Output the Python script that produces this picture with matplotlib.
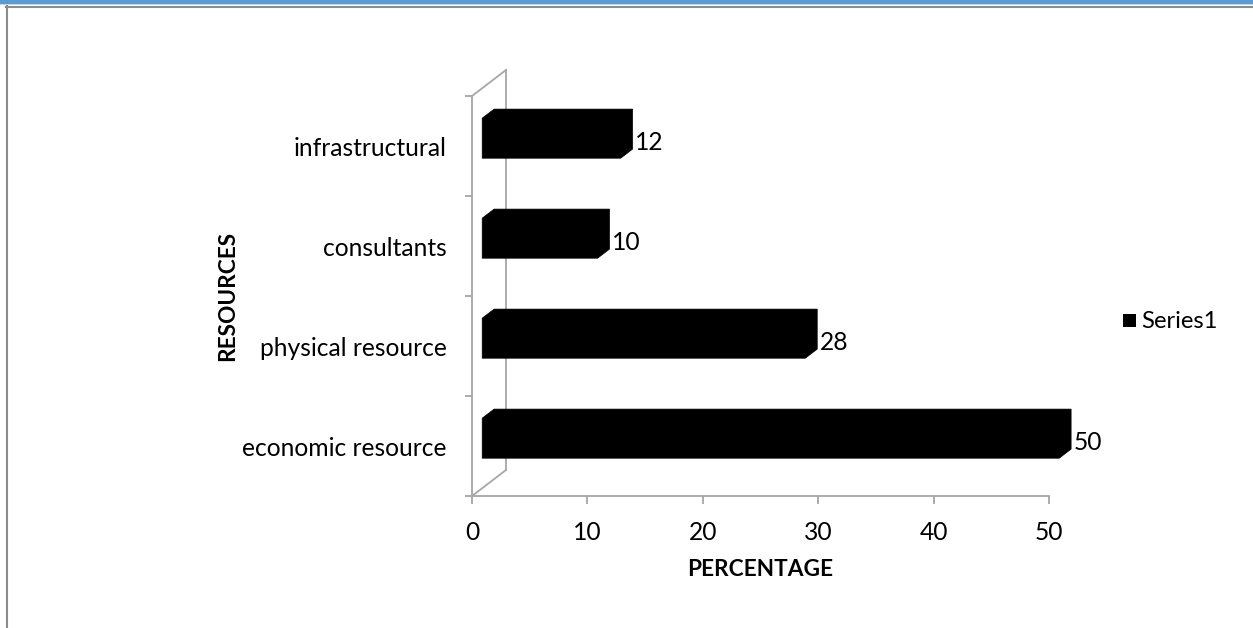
import matplotlib
matplotlib.use("Agg")
import matplotlib.pyplot as plt
from matplotlib.patches import Polygon, Rectangle
from matplotlib.lines import Line2D

categories = ["economic resource", "physical resource", "consultants", "infrastructural"]
values = [50, 28, 10, 12]
series_name = "Series1"
x_ticks = [0, 10, 20, 30, 40, 50]
x_title = "PERCENTAGE"
y_title = "RESOURCES"

W, H, DPI = 1253, 628, 100
fig = plt.figure(figsize=(W / DPI, H / DPI), dpi=DPI)
FONT = "Lato"
FS = 17.7
TFS = 16.3
GRAY = "#a6a6a6"

# axes position in pixels
x0p, x1p = 472, 1049
ytop, ybot = 96, 496
ax = fig.add_axes([x0p / W, (H - ybot) / H, (x1p - x0p) / W, (ybot - ytop) / H])
ax.set_xlim(0, 50)
ax.set_ylim(-0.5, len(categories) - 0.5)
ax.patch.set_alpha(0)

# depth of the 3D box in data units
px_per_x = (x1p - x0p) / 50.0
px_per_y = (ybot - ytop) / len(categories)
DX = 34 / px_per_x
DY = 26 / px_per_y

for s in ["top", "right"]:
    ax.spines[s].set_visible(False)
for s in ["left", "bottom"]:
    ax.spines[s].set_color(GRAY)
    ax.spines[s].set_linewidth(1.3)

ax.set_xticks(x_ticks)
ax.set_xticklabels([str(t) for t in x_ticks], fontsize=FS, fontfamily=FONT)
ax.tick_params(axis="x", direction="out", length=6, width=1.3, color=GRAY, pad=12)
ax.set_yticks([i - 0.5 for i in range(len(categories) + 1)])
ax.set_yticklabels([])
ax.set_yticks(range(len(categories)), minor=True)
ax.set_yticklabels(categories, minor=True, fontsize=FS, fontfamily=FONT)
ax.tick_params(axis="y", which="major", direction="out", length=5, width=1.3, color=GRAY)
ax.tick_params(axis="y", which="minor", length=0, pad=18)

# back wall lines
ylo, yhi = -0.5, len(categories) - 0.5
kw = dict(color=GRAY, lw=1.3, clip_on=False, zorder=1)
ax.add_line(Line2D([DX, DX], [ylo + DY, yhi + DY], **kw))
ax.add_line(Line2D([0, DX], [ylo, ylo + DY], **kw))
ax.add_line(Line2D([0, DX], [yhi, yhi + DY], **kw))

# bars
t0, t1 = 0.3, 0.65
hh = 0.2
for i, v in enumerate(values):
    ox0, oy0 = t0 * DX, t0 * DY
    ox1, oy1 = t1 * DX, t1 * DY
    pts = [
        (ox0, i - hh + oy0),
        (ox0, i + hh + oy0),
        (ox1, i + hh + oy1),
        (v + ox1, i + hh + oy1),
        (v + ox1, i - hh + oy1),
        (v + ox0, i - hh + oy0),
    ]
    ax.add_patch(Polygon(pts, closed=True, facecolor="black", edgecolor="black",
                         lw=0.5, clip_on=False, zorder=3))
    ax.text(v + ox1 + 0.2, i + oy0 - 0.04, str(v), fontsize=FS, fontfamily=FONT,
            ha="left", va="center", zorder=4)

ax.set_xlabel(x_title, fontsize=TFS, fontfamily=FONT, fontweight="bold", va="center")
ax.xaxis.set_label_coords((760 - x0p) / (x1p - x0p), -(570 - ybot) / (ybot - ytop))
fig.text(228 / W, 1 - 296 / H, y_title, rotation=90, fontsize=TFS, fontfamily=FONT,
         fontweight="bold", ha="center", va="center")

# legend
fig.patches.append(Rectangle((1123 / W, 1 - 327 / H), 13 / W, 13 / H, transform=fig.transFigure,
                             facecolor="black", edgecolor="none"))
fig.text(1141 / W, 1 - 321 / H, series_name, fontsize=FS - 0.5, fontfamily=FONT, ha="left", va="center")

# page borders
fig.patches.append(Rectangle((0, 1 - 4 / H), 1, 4 / H, transform=fig.transFigure,
                             facecolor="#5b9bd5", edgecolor="none"))
fig.patches.append(Rectangle((0, 1 - 5 / H), 1, 1 / H, transform=fig.transFigure,
                             facecolor="#bdd7ee", edgecolor="none"))
fig.lines.append(Line2D([6 / W, 1], [1 - 7 / H, 1 - 7 / H], transform=fig.transFigure,
                        color="#8c8c8c", lw=1.5))
fig.lines.append(Line2D([7 / W, 7 / W], [0, 1 - 6 / H], transform=fig.transFigure,
                        color="#8c8c8c", lw=1.5))

fig.savefig("out.png", dpi=DPI)
